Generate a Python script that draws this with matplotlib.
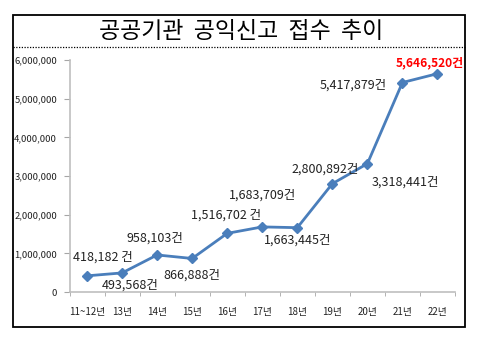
import matplotlib.pyplot as plt
from matplotlib.lines import Line2D
from matplotlib.patches import Rectangle

plt.rcParams['font.family'] = ['Noto Sans CJK KR', 'DejaVu Sans']

# yearly whistleblowing report counts
years = ['11~12년', '13년', '14년', '15년', '16년', '17년', '18년', '19년', '20년', '21년', '22년']
reports = [418182, 493568, 958103, 866888, 1516702, 1683709, 1663445,
           2800892, 3318441, 5417879, 5646520]
label_texts = ['418,182 건', '493,568건', '958,103건', '866,888건', '1,516,702 건',
               '1,683,709건', '1,663,445건', '2,800,892건', '3,318,441건',
               '5,417,879건', '5,646,520건']
y_ticks = [0, 1000000, 2000000, 3000000, 4000000, 5000000, 6000000]

# label offsets in pixels (dx, dy)
offsets_px = [(16, 19), (8, -12), (-2, 17), (0, -17), (-1, 18), (0, 32),
              (0, -12), (-7, 15), (38, -18), (-49, -3), (-8, 11)]

fig = plt.figure(figsize=(4.83, 3.42), dpi=100)
W, H = 483, 342

# outer frame and dotted separator under the title
fig.patches.append(Rectangle((13 / W, 1 - 327 / H), 452 / W, 312 / H,
                             transform=fig.transFigure, fill=False,
                             edgecolor='black', linewidth=1.3))
fig.lines.append(Line2D([13 / W, 465 / W], [1 - 47 / H, 1 - 47 / H],
                        transform=fig.transFigure, color='black',
                        linewidth=0.9, linestyle=(0, (1, 1.2))))
fig.text(241 / W, 1 - 31 / H, '공공기관  공익신고  접수  추이', ha='center', va='center',
         fontsize=16.5, color='black', fontweight='medium')

ax = fig.add_axes([69.5 / W, 1 - 292 / H, (455 - 69.5) / W, (292 - 60) / H])
x = list(range(len(years)))
ax.plot(x, reports, color='#4A7EBB', linewidth=2, marker='D', markersize=5.5,
        markerfacecolor='#4A7EBB', markeredgecolor='#4A7EBB')

ax.set_xlim(-0.5, len(years) - 0.5)
ax.set_ylim(0, 6000000)
ax.set_yticks(y_ticks)
ax.set_yticklabels([f'{v:,}' for v in y_ticks], fontsize=6.8, color='#222222')
ax.set_xticks(x)
ax.set_xticklabels(years, fontsize=7, color='#222222', fontweight='medium')
ax.set_xticks([i + 0.5 for i in range(-1, len(years))], minor=True)
ax.tick_params(axis='x', which='major', length=0, pad=11)
ax.tick_params(axis='x', which='minor', length=3, color='#A6A6A6', direction='out')
ax.tick_params(axis='y', length=4, color='#A6A6A6', direction='out', pad=5)
for side in ['top', 'right']:
    ax.spines[side].set_visible(False)
for side in ['left', 'bottom']:
    ax.spines[side].set_color('#BFBFBF')
    ax.spines[side].set_linewidth(1.2)

for i, (v, txt, (dx, dy)) in enumerate(zip(reports, label_texts, offsets_px)):
    last = i == len(reports) - 1
    ax.annotate(txt, (i, v), xytext=(dx * 0.72, dy * 0.72), textcoords='offset points',
                ha='center', va='center', fontsize=8.6 if last else 9,
                color='#FF0000' if last else '#222222',
                fontweight='bold' if last else 'normal')

fig.savefig('out.png', dpi=100)
